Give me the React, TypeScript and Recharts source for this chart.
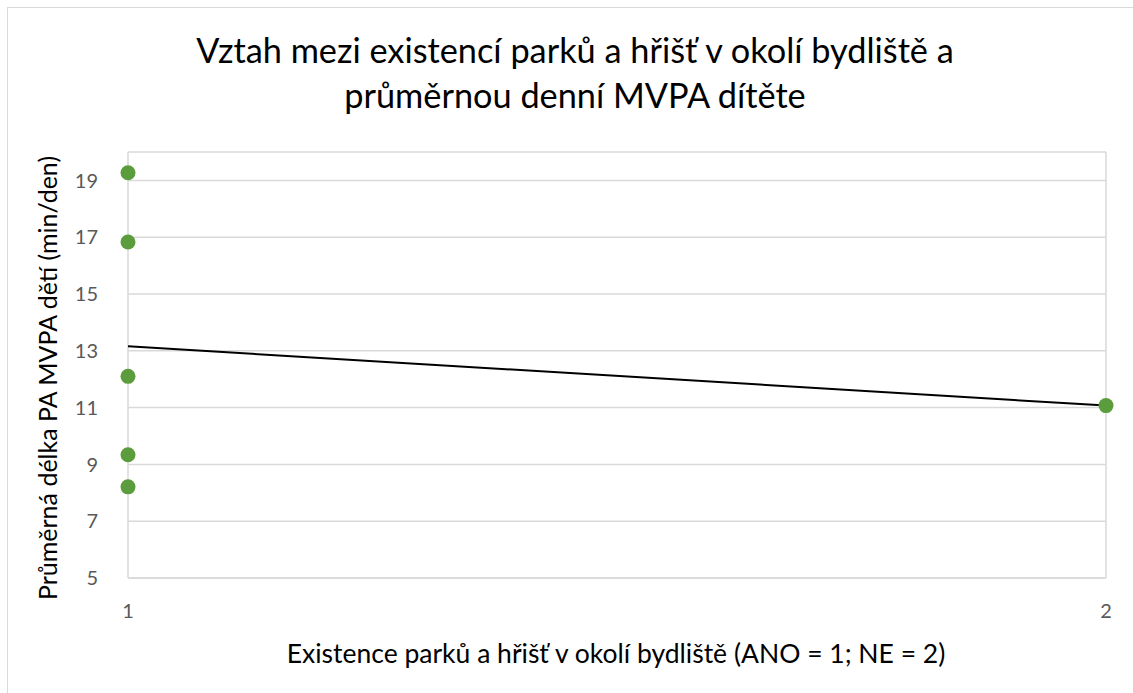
import React from 'react'
import {
  ComposedChart,
  Scatter,
  Line,
  XAxis,
  YAxis,
  CartesianGrid,
} from 'recharts'

// Existence parků (1 = ANO, 2 = NE) vs průměrná denní MVPA
const parkExistence = [1, 1, 1, 1, 1, 2]
const mvpaMinutes = [19.27, 16.83, 12.1, 9.34, 8.21, 11.07]

// lineární trend
const trendX = [1, 2]
const trendY = [13.16, 11.07]

const xTicks = [1, 2]
const yTicks = [5, 7, 9, 11, 13, 15, 17, 19]

const FONT = 'Lato, "Open Sans", sans-serif'
const GREEN = '#5B9D3C'

const points = parkExistence.map((x, i) => ({ x, y: mvpaMinutes[i] }))
const trend = trendX.map((x, i) => ({ x, y: trendY[i] }))

const Dot = (props: any) => {
  const { cx, cy } = props
  return <circle cx={cx} cy={cy} r={7.5} fill={GREEN} />
}

export default function App() {
  return (
    <div style={{ position: 'fixed', left: 0, top: 0, width: 1133, height: 693, background: '#fff', overflow: 'hidden', fontFamily: FONT }}>
      {/* rámeček grafu */}
      <div style={{ position: 'absolute', left: 7, top: 7, width: 1160, height: 720, border: '1.5px solid #d9d9d9' }} />

      <div style={{ position: 'absolute', left: 0, top: 27, width: 1150, textAlign: 'center', fontSize: 34.3, lineHeight: '45px', color: '#000' }}>
        Vztah mezi existencí parků a hřišť v okolí bydliště a<br />
        průměrnou denní MVPA dítěte
      </div>

      <ComposedChart
        width={1133}
        height={693}
        margin={{ top: 152, right: 27, bottom: 55, left: 68 }}
        style={{ position: 'absolute', left: 0, top: 0 }}
      >
        <CartesianGrid stroke="#d9d9d9" strokeWidth={1.5} />
        <XAxis
          type="number"
          dataKey="x"
          domain={[1, 2]}
          ticks={xTicks}
          tickLine={false}
          axisLine={{ stroke: '#d9d9d9', strokeWidth: 1.5 }}
          tick={{ fill: '#595959', fontSize: 20, fontFamily: FONT }}
          tickMargin={20}
          height={60}
        />
        <YAxis
          type="number"
          dataKey="y"
          domain={[5, 20]}
          ticks={yTicks}
          tickLine={false}
          axisLine={false}
          tick={{ fill: '#595959', fontSize: 20, fontFamily: FONT }}
          tickMargin={24}
          width={60}
        />
        <Line
          data={trend}
          dataKey="y"
          stroke="#000"
          strokeWidth={2}
          dot={false}
          activeDot={false}
          isAnimationActive={false}
        />
        <Scatter data={points} dataKey="y" shape={Dot} isAnimationActive={false} />
      </ComposedChart>

      <div style={{ position: 'absolute', left: 0, top: 637, width: 1232, textAlign: 'center', fontSize: 26.5, color: '#000', whiteSpace: 'nowrap' }}>
        Existence parků a hřišť v okolí bydliště (ANO = 1; NE = 2)
      </div>

      <div
        style={{
          position: 'absolute',
          left: 47,
          top: 378,
          transform: 'translate(-50%, -50%) rotate(-90deg)',
          fontSize: 25,
          color: '#000',
          whiteSpace: 'nowrap',
        }}
      >
        Průměrná délka PA MVPA dětí (min/den)
      </div>
    </div>
  )
}
